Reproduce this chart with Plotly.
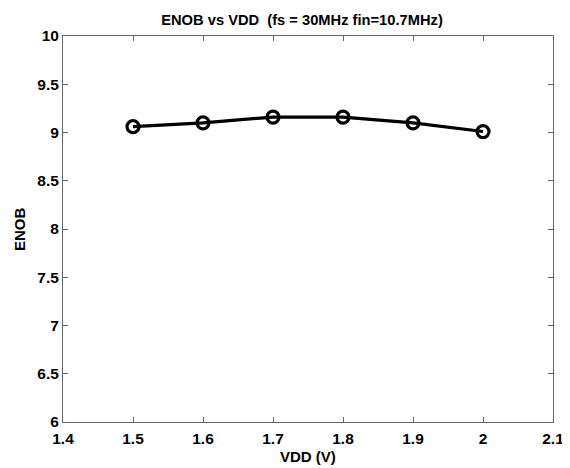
import plotly.graph_objects as go

vdd = [1.5, 1.6, 1.7, 1.8, 1.9, 2.0]
enob = [9.06, 9.10, 9.16, 9.16, 9.10, 9.01]
x_ticks = [1.4, 1.5, 1.6, 1.7, 1.8, 1.9, 2.0, 2.1]
x_tick_labels = ["1.4", "1.5", "1.6", "1.7", "1.8", "1.9", "2", "2.1"]
y_ticks = [6, 6.5, 7, 7.5, 8, 8.5, 9, 9.5, 10]
y_tick_labels = ["6", "6.5", "7", "7.5", "8", "8.5", "9", "9.5", "10"]

FAM = "Liberation Sans, Arial, Helvetica, sans-serif"
W, H = 562, 460  # page body has an 8px margin

fig = go.Figure(go.Scatter(
    x=vdd, y=enob, mode="lines+markers",
    line=dict(color="black", width=3.2),
    marker=dict(symbol="circle-open", size=12, color="black", line=dict(width=3.2, color="black")),
))

axis_common = dict(
    showgrid=False, zeroline=False, showline=True, mirror="ticks",
    linecolor="#666", linewidth=1, ticks="inside", ticklen=5, tickcolor="#666",
    tickfont=dict(family=FAM, size=15.5, color="black"),
    automargin=False,
)

fig.update_layout(
    width=W, height=H,
    margin=dict(l=55, r=17, t=28, b=46),
    plot_bgcolor="white", paper_bgcolor="white",
    font=dict(family=FAM, size=15, color="black"),
    showlegend=False,
    title=dict(text="<b>ENOB vs VDD  (fs = 30MHz fin=10.7MHz)</b>", x=294 / W, xanchor="center",
               y=1 - 11.5 / H, yanchor="middle", font=dict(family=FAM, size=14.7, color="black")),
    xaxis=dict(range=[1.4, 2.1], tickvals=x_ticks, ticktext=["<b>%s</b>" % t for t in x_tick_labels],
               ticklabelstandoff=2, **axis_common),
    yaxis=dict(range=[6, 10], tickvals=y_ticks, ticktext=["<b>%s</b>" % t for t in y_tick_labels],
               **axis_common),
    annotations=[
        dict(text="<b>VDD (V)</b>", xref="paper", yref="paper", x=0.5, y=0,
             xanchor="center", yanchor="middle", yshift=-34, showarrow=False,
             font=dict(family=FAM, size=15, color="black")),
        dict(text="<b>ENOB</b>", xref="paper", yref="paper", x=0, y=0.5, textangle=-90,
             xanchor="center", yanchor="middle", xshift=-44, showarrow=False,
             font=dict(family=FAM, size=15, color="black")),
    ],
)

fig.write_html("out.html")
